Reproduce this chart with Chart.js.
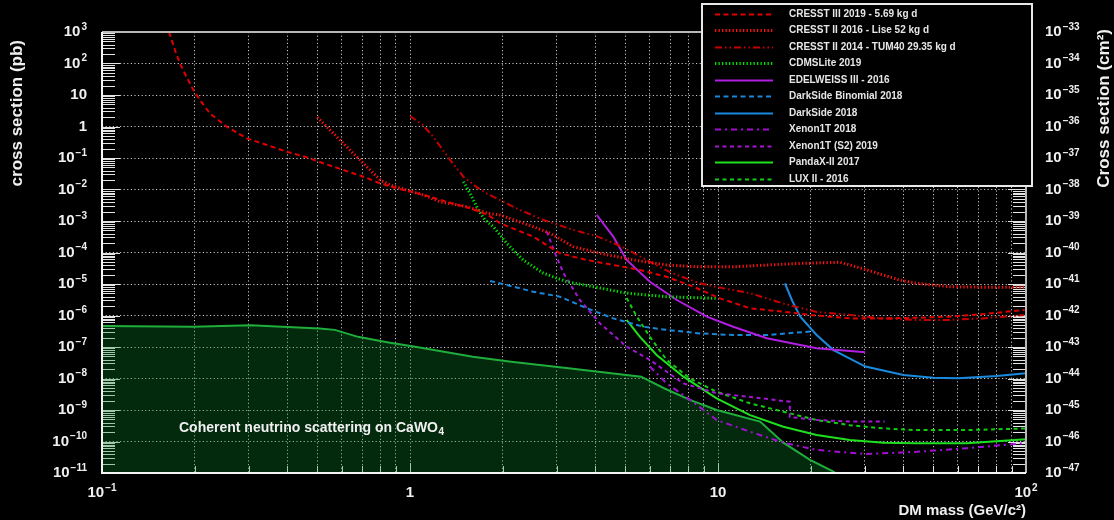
<!DOCTYPE html>
<html>
<head>
<meta charset="utf-8">
<script src="https://cdn.jsdelivr.net/npm/chart.js@4.4.1/dist/chart.umd.min.js"></script>
<style>
html,body{margin:0;padding:0;background:#000;}
#wrap{width:1114px;height:520px;position:relative;background:#000;}
canvas{display:block;}
</style>
</head>
<body>
<div id="wrap"><canvas id="c" width="1114" height="520"></canvas></div>
<script>
// ---------- data (DM mass in GeV/c^2, cross section in pb) ----------
const seriesLabels = [
  'CRESST III 2019 - 5.69 kg d',
  'CRESST II 2016 - Lise 52 kg d',
  'CRESST II 2014 - TUM40 29.35 kg d',
  'CDMSLite 2019',
  'EDELWEISS III - 2016',
  'DarkSide Binomial 2018',
  'DarkSide 2018',
  'Xenon1T 2018',
  'Xenon1T (S2) 2019',
  'PandaX-II 2017',
  'LUX II - 2016'
];
const neutrinoLabel = 'Coherent neutrino scattering on CaWO';
const neutrinoLabelSub = '4';

const cresst3Mass = [0.165,0.1725,0.179,0.188,0.198,0.208,0.224,0.254,0.295,0.343,0.398,0.462,0.523,0.607,0.706,0.799,0.905,1.025,1.161,1.349,1.566,1.795,1.96,2.51,3.07,3.75,4.57,5.58,6.81,8.32,10.15,12.7,16.3,20,26.8,34.4,45,56,72,99];
const cresst3Xs   = [1000,268,101,38,14.4,6.9,2.62,0.986,0.42,0.259,0.158,0.105,0.068,0.0416,0.0255,0.0157,0.0109,0.00814,0.0059,0.0038,0.00253,0.00155,8.5e-4,3.2e-4,9.4e-5,5.8e-5,4.0e-5,2.8e-5,1.7e-5,8.2e-6,3.5e-6,1.7e-6,1.32e-6,1.04e-6,8.1e-7,8.1e-7,8.5e-7,9.2e-7,1.1e-6,1.5e-6];

const liseMass = [0.50,0.55,0.607,0.671,0.742,0.80,0.861,0.976,1.105,1.25,1.53,1.79,1.96,2.51,2.85,3.39,4.14,5.31,6.81,8.74,11.2,14.4,18.5,24.9,26.8,30.4,34.4,38.9,44.1,56.5,72.6,100];
const liseXs   = [1.96,0.77,0.293,0.11,0.0416,0.02,0.0139,0.0096,0.0067,0.0041,0.00284,0.00175,0.00155,6.6e-4,4.1e-4,1.53e-4,9.4e-5,5.8e-5,4.0e-5,3.5e-5,3.5e-5,4.0e-5,4.5e-5,4.9e-5,4.0e-5,2.8e-5,1.93e-5,1.34e-5,1.05e-5,8.2e-6,7.9e-6,7.9e-6];

const tum40Mass = [1.0,1.1,1.19,1.35,1.49,1.64,1.77,2.22,2.71,3.39,4.04,4.9,6.0,7.1,8.74,9.9,12.7,16.3,20.9,26.8,34.4,44,56,72.5,98.5];
const tum40Xs   = [2.15,1.12,0.47,0.0865,0.0255,0.0123,0.0076,2.5e-3,1.08e-3,5.2e-4,3.3e-4,1.5e-4,5.1e-5,2.2e-5,1.05e-5,8e-6,5.1e-6,2.4e-6,1.3e-6,1.04e-6,8.1e-7,7.2e-7,7.2e-7,8.1e-7,1.04e-6];

const cdmsMass = [1.49,1.566,1.667,1.752,1.865,2.06,2.33,2.71,3.23,3.94,5.05,6.81,9.9];
const cdmsXs   = [0.0177,0.0076,0.00223,1.08e-3,6.6e-4,1.96e-4,5.8e-5,2.2e-5,1.18e-5,8.2e-6,5.1e-6,3.95e-6,3.5e-6];

const edwMass = [4.04,4.57,5.05,6.01,7.35,9.2,11.2,14.4,20.9,30.06];
const edwXs   = [1.55e-3,3.2e-4,5.8e-5,1.18e-5,3.1e-6,9.2e-7,4.4e-7,1.89e-7,9.1e-8,6.8e-8];

const dsBinMass = [1.82,2.06,2.51,3.07,3.75,4.57,5.72,6.81,8.74,11.2,14.4,19.9];
const dsBinXs   = [1.25e-5,9.3e-6,5.7e-6,3.95e-6,1.7e-6,8.1e-7,4.4e-7,3.5e-7,2.7e-7,2.4e-7,2.4e-7,3.1e-7];

const dsMass = [16.5,17.4,18.5,20.9,23.7,30.1,40,50,60.3,80.3,100];
const dsXs   = [1.05e-5,3.0e-6,9.2e-7,2.4e-7,8.0e-8,2.4e-8,1.3e-8,1.06e-8,1.01e-8,1.2e-8,1.46e-8];

const x1tMass = [6.01,6.81,8.11,9.9,12.7,16.3,20.9,30.3,44.1,64.2,98];
const x1tXs   = [2.4e-8,7.0e-9,2.1e-9,4.8e-10,2.05e-10,9.2e-11,5.4e-11,4.0e-11,4.7e-11,6.1e-11,8.8e-11];

const x1s2Mass = [2.78,2.99,3.15,3.56,4.14,5.05,6.01,7.71,9.9,12.7,17.1,17.1,20.9,26.8,34.8];
const x1s2Xs   = [4.6e-4,7.4e-5,2.2e-5,3.1e-6,5.6e-7,1.02e-7,3.9e-8,7.0e-9,3.4e-9,2.6e-9,1.83e-9,6.0e-10,4.8e-10,4.3e-10,4.3e-10];

const pandaMass = [5.05,5.58,6.32,7.72,9.9,12.7,16.3,20.9,26.8,34.4,44.1,64.2,100];
const pandaXs   = [7.2e-7,2.1e-7,5.6e-8,1.14e-8,2.35e-9,6.9e-10,2.95e-10,1.6e-10,1.12e-10,9.2e-11,8.8e-11,8.8e-11,1.17e-10];

const luxMass = [5.05,5.45,6.01,6.81,8.11,9.9,12.7,16.3,20.9,26.8,34.4,44.1,64.2,100];
const luxXs   = [3.6e-6,9.2e-7,2.1e-7,3.9e-8,1.0e-8,3.8e-9,1.63e-9,8.8e-10,4.8e-10,3.3e-10,2.6e-10,2.3e-10,2.3e-10,2.6e-10];

const nuMass = [0.1,0.198,0.304,0.508,0.57,0.678,0.852,1.04,1.6,2.13,3.27,5.63,6.68,8.11,9.9,13.7,16.3,19.9,23.7,25];
const nuXs   = [4.6e-7,4.4e-7,4.9e-7,3.9e-7,3.5e-7,2.1e-7,1.4e-7,1.02e-7,4.9e-8,3.4e-8,2.1e-8,1.14e-8,4.9e-9,2.1e-9,1.0e-9,4.3e-10,9.2e-11,2.6e-11,1.1e-11,7e-12];

// ---------- tick labels (powers of ten; label = 10^exp) ----------
const xTickExponents  = [-1, 0, 1, 2];
const yTickExponents  = [3,2,1,0,-1,-2,-3,-4,-5,-6,-7,-8,-9,-10,-11];
const y2TickExponents = [-33,-34,-35,-36,-37,-38,-39,-40,-41,-42,-43,-44,-45,-46,-47];

const xTitle  = 'DM mass (GeV/c\u00B2)';
const yTitle  = 'cross section (pb)';
const y2Title = 'Cross section (cm\u00B2)';

// ---------- helpers ----------
function pts(m, s){ return m.map((v,i)=>({x:v, y:s[i]})); }
function decadeTicks(lo, hi, withMinor){
  const t = [];
  for (let e=lo; e<=hi; e++){
    const kmax = (e===hi) ? 1 : (withMinor ? 9 : 1);
    for (let k=1;k<=kmax;k++) t.push({value: k*Math.pow(10,e)});
  }
  return t;
}
function expParts(e){
  if (e === 0) return ['1', ''];
  if (e === 1) return ['10', ''];
  return ['10', String(e).replace('-', '\u2212')];
}

const FONT = "'Liberation Sans', Arial, Helvetica, sans-serif";
const TXT = '#f0f0f0';

function ds(label, m, s, color, dash, width){
  return {label, data: pts(m,s), borderColor: color, backgroundColor: color,
          borderDash: dash, borderWidth: width, pointRadius: 0, fill: false,
          tension: 0, order: 1, inLegend: true, borderCapStyle: 'butt'};
}

const datasets = [
  ds(seriesLabels[0], cresst3Mass, cresst3Xs, '#e00000', [5,3.5], 2),
  ds(seriesLabels[1], liseMass, liseXs, '#ff1010', [1.3,2.2], 3),
  ds(seriesLabels[2], tum40Mass, tum40Xs, '#c80000', [7,3,1.5,3,1.5,3], 2),
  ds(seriesLabels[3], cdmsMass, cdmsXs, '#00e000', [1.3,2.2], 3),
  ds(seriesLabels[4], edwMass, edwXs, '#b21ee0', [], 2),
  ds(seriesLabels[5], dsBinMass, dsBinXs, '#1a86d8', [5,3.5], 2),
  ds(seriesLabels[6], dsMass, dsXs, '#1a8ae0', [], 2),
  ds(seriesLabels[7], x1tMass, x1tXs, '#a010d0', [6,4,2,4], 2),
  ds(seriesLabels[8], x1s2Mass, x1s2Xs, '#a416d4', [4,3.5], 2),
  ds(seriesLabels[9], pandaMass, pandaXs, '#1ee01e', [], 2),
  ds(seriesLabels[10], luxMass, luxXs, '#10cc10', [4,3.5], 2),
  {label: neutrinoLabel, data: pts(nuMass, nuXs), borderColor: '#1fae3c', borderWidth: 2,
   backgroundColor: 'rgba(12,140,45,0.30)', fill: 'start', pointRadius: 0, tension: 0,
   order: 10, inLegend: false}
];

// ---------- plugins ----------
const bgPlugin = {
  id: 'bg',
  beforeDraw(chart){
    const ctx = chart.ctx; ctx.save(); ctx.fillStyle = '#000';
    ctx.fillRect(0,0,chart.width,chart.height); ctx.restore();
  }
};

function drawPow(ctx, e, x, y, align){
  const [base, exp] = expParts(e);
  ctx.font = 'bold 15px ' + FONT;
  const wb = ctx.measureText(base).width;
  ctx.font = 'bold 10px ' + FONT;
  const we = exp ? ctx.measureText(exp).width + 1 : 0;
  const total = wb + we;
  const x0 = align === 'right' ? x - total : (align === 'center' ? x - total/2 : x);
  ctx.textAlign = 'left'; ctx.textBaseline = 'middle';
  ctx.font = 'bold 15px ' + FONT;
  ctx.fillText(base, x0, y);
  if (exp){
    ctx.font = 'bold 10px ' + FONT;
    ctx.fillText(exp, x0 + wb + 1, y - 5);
  }
}

const axisLabels = {
  id: 'axisLabels',
  afterDraw(chart){
    const {ctx, chartArea: a, scales} = chart;
    ctx.save();
    ctx.fillStyle = TXT;
    yTickExponents.forEach(e => {
      drawPow(ctx, e, a.left - 15, scales.y.getPixelForValue(Math.pow(10, e)), 'right');
    });
    y2TickExponents.forEach(e => {
      drawPow(ctx, e, a.right + 19, scales.y2.getPixelForValue(Math.pow(10, e)), 'left');
    });
    xTickExponents.forEach(e => {
      drawPow(ctx, e, scales.x.getPixelForValue(Math.pow(10, e)), a.bottom + 20, 'center');
    });
    // vertical axis titles (both read bottom-to-top, end-aligned at top)
    ctx.font = 'bold 17px ' + FONT;
    ctx.textAlign = 'right'; ctx.textBaseline = 'middle';
    ctx.save(); ctx.translate(17, 40); ctx.rotate(-Math.PI/2); ctx.fillText(yTitle, 0, 0); ctx.restore();
    ctx.save(); ctx.translate(1104, 29); ctx.rotate(-Math.PI/2); ctx.fillText(y2Title, 0, 0); ctx.restore();
    ctx.restore();
  }
};

const innerTicks = {
  id: 'innerTicks',
  beforeDatasetsDraw(chart){
    const {ctx, chartArea: a, scales} = chart;
    const y = scales.y, y2 = scales.y2, x = scales.x;
    ctx.save();
    ctx.strokeStyle = '#e4e4e4'; ctx.lineWidth = 1;
    ctx.beginPath();
    for (let e=-11; e<=3; e++){
      for (let k=1;k<=9;k++){
        const v = k*Math.pow(10,e);
        if (v > 1e3*1.0001) break;
        const py = Math.round(y.getPixelForValue(v)) + 0.5;
        const len = k===1 ? 18 : 13;
        ctx.moveTo(a.left, py); ctx.lineTo(a.left+len, py);
      }
    }
    for (let e=-47; e<=-33; e++){
      for (let k=1;k<=9;k++){
        const v = k*Math.pow(10,e);
        if (v > 1e-33*1.0001) break;
        const py = Math.round(y2.getPixelForValue(v)) + 0.5;
        const len = k===1 ? 18 : 13;
        ctx.moveTo(a.right, py); ctx.lineTo(a.right-len, py);
      }
    }
    for (let e=-1; e<=2; e++){
      for (let k=1;k<=9;k++){
        const v = k*Math.pow(10,e);
        if (v > 100.001) break;
        const px = Math.round(x.getPixelForValue(v)) + 0.5;
        const len = k===1 ? 10 : 7;
        ctx.moveTo(px, a.bottom); ctx.lineTo(px, a.bottom-len);
      }
    }
    ctx.stroke();
    ctx.restore();
  },
  afterDatasetsDraw(chart){
    const {ctx, chartArea: a} = chart;
    ctx.save();
    ctx.lineWidth = 2;
    ctx.strokeStyle = '#b8b8b8';
    ctx.beginPath();
    ctx.moveTo(a.left, a.top); ctx.lineTo(a.right, a.top); ctx.lineTo(a.right, a.bottom);
    ctx.stroke();
    ctx.strokeStyle = '#f4f4f4';
    ctx.beginPath();
    ctx.moveTo(a.left, a.top); ctx.lineTo(a.left, a.bottom); ctx.lineTo(a.right, a.bottom);
    ctx.stroke();
    // neutrino floor label
    ctx.fillStyle = TXT;
    ctx.textBaseline = 'middle'; ctx.textAlign = 'left';
    ctx.font = 'bold 14px ' + FONT;
    const tx = 179, ty = 428;
    ctx.fillText(neutrinoLabel, tx, ty);
    const w = ctx.measureText(neutrinoLabel).width;
    ctx.font = 'bold 10px ' + FONT;
    ctx.fillText(neutrinoLabelSub, tx + w + 0.5, ty + 4);
    ctx.restore();
  }
};

const customLegend = {
  id: 'customLegend',
  afterDraw(chart){
    const ctx = chart.ctx;
    ctx.save();
    const bx = 702, by = 4, bw = 330, bh = 182;
    ctx.fillStyle = '#000';
    ctx.fillRect(bx, by, bw, bh);
    ctx.strokeStyle = '#e8e8e8'; ctx.lineWidth = 2;
    ctx.strokeRect(bx, by, bw, bh);
    ctx.font = 'bold 10px ' + FONT;
    ctx.textBaseline = 'middle'; ctx.textAlign = 'left';
    let i = 0;
    chart.data.datasets.forEach(d => {
      if (!d.inLegend) return;
      const yy = 13.5 + i*16.5;
      ctx.strokeStyle = d.borderColor;
      ctx.lineWidth = d.borderWidth;
      ctx.setLineDash(d.borderDash || []);
      ctx.beginPath();
      ctx.moveTo(715, Math.round(yy)+0.5); ctx.lineTo(773, Math.round(yy)+0.5);
      ctx.stroke();
      ctx.setLineDash([]);
      ctx.fillStyle = '#e6e6e6';
      ctx.fillText(d.label, 789, yy+0.5);
      i++;
    });
    ctx.restore();
  }
};

// ---------- chart ----------
Chart.defaults.font.family = FONT;
Chart.defaults.color = TXT;

new Chart(document.getElementById('c'), {
  type: 'line',
  data: { datasets },
  plugins: [bgPlugin, innerTicks, customLegend, axisLabels],
  options: {
    responsive: false,
    devicePixelRatio: 1,
    animation: false,
    layout: { padding: { top: 32, left: 0, right: 0, bottom: 0 } },
    plugins: { legend: { display: false }, tooltip: { enabled: false } },
    scales: {
      x: {
        type: 'logarithmic', position: 'bottom', min: 0.1, max: 100,
        afterBuildTicks: s => { s.ticks = decadeTicks(-1, 2, true); },
        afterFit: s => { s.height = 47; },
        grid: { color: '#c4c4c4', lineWidth: 1, drawTicks: false },
        border: { display: false, dash: [1.2, 2.4] },
        ticks: { display: false, autoSkip: false, maxRotation: 0 },
        title: { display: true, text: xTitle, align: 'end', color: TXT,
                 font: { size: 15, weight: 'bold' }, padding: { top: 0, bottom: 0 } }
      },
      y: {
        type: 'logarithmic', position: 'left', min: 1e-11, max: 1e3,
        afterBuildTicks: s => { s.ticks = decadeTicks(-11, 3, false); },
        afterFit: s => { s.width = 102; },
        grid: { color: '#c4c4c4', lineWidth: 1, drawTicks: false },
        border: { display: false, dash: [1.2, 2.4] },
        ticks: { display: false, autoSkip: false },
        title: { display: false, text: yTitle }
      },
      y2: {
        type: 'logarithmic', position: 'right', min: 1e-47, max: 1e-33,
        afterBuildTicks: s => { s.ticks = decadeTicks(-47, -33, false); },
        afterFit: s => { s.width = 88; },
        grid: { display: false, drawTicks: false },
        border: { display: false },
        ticks: { display: false, autoSkip: false },
        title: { display: false, text: y2Title }
      }
    }
  }
});
</script>
</body>
</html>
